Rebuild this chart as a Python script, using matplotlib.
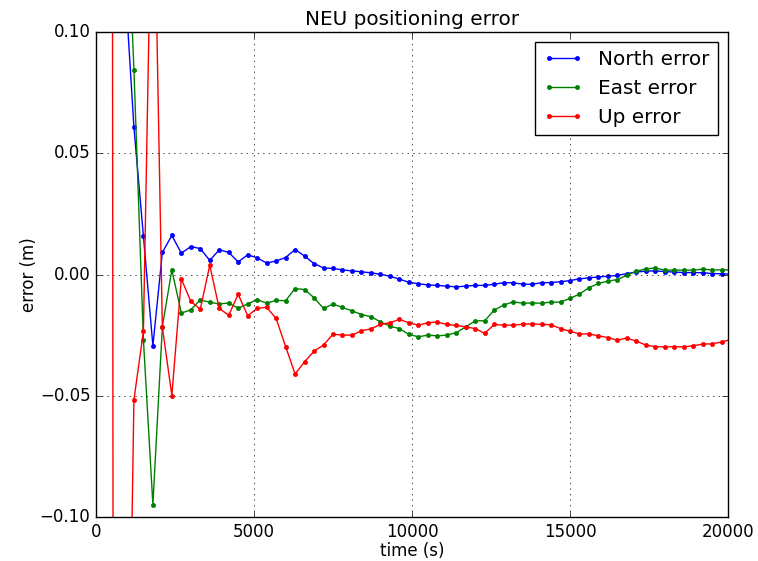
import numpy as np
import matplotlib
matplotlib.use("Agg")
import matplotlib.pyplot as plt

plt.style.use("classic")

# sample times (s), every 300 s
time_s = np.arange(300, 20101, 300)

north_err = [0.6, 0.3, 0.124,
             0.0607, 0.0159, -0.0294, 0.0091, 0.0161, 0.0088, 0.0115, 0.0107, 0.0058,
             0.0102, 0.0091, 0.0052, 0.0081, 0.0069, 0.0047, 0.0056, 0.0070,
             0.0103, 0.0076, 0.0045, 0.0027, 0.0025, 0.0019, 0.0015, 0.0011, 0.0007,
             0.0001, -0.0007, -0.0019, -0.0032, -0.0038, -0.0043, -0.0045, -0.0048,
             -0.0051, -0.0048, -0.0045, -0.0045, -0.0040, -0.0034,
             -0.0034, -0.0040, -0.0040, -0.0034, -0.0033, -0.0030, -0.0025, -0.0018,
             -0.0014, -0.0010, -0.0007, -0.0004, 0.0004, 0.0010, 0.0014, 0.0015,
             0.0012, 0.0010, 0.0008, 0.0008, 0.0007, 0.0004, 0.0003, 0.0001]

east_err = [0.7, 0.4, 0.18,
            0.0844, -0.0269, -0.0949, -0.0215, 0.0019, -0.0159, -0.0146, -0.0104, -0.0115,
            -0.0121, -0.0118, -0.0139, -0.0121, -0.0104, -0.0118, -0.0107, -0.0108,
            -0.0058, -0.0062, -0.0096, -0.0140, -0.0122, -0.0136, -0.0150, -0.0165,
            -0.0174, -0.0195, -0.0213, -0.0223, -0.0247, -0.0257, -0.0250, -0.0253,
            -0.0250, -0.0240, -0.0216, -0.0191, -0.0191, -0.0147, -0.0126,
            -0.0113, -0.0118, -0.0118, -0.0118, -0.0114, -0.0114, -0.0098, -0.0081,
            -0.0054, -0.0037, -0.0027, -0.0021, -0.0003, 0.0014, 0.0023, 0.0027,
            0.0018, 0.0018, 0.0018, 0.0018, 0.0022, 0.0019, 0.0019, 0.0019]

up_err = [3.0, -0.9, -0.3,
          -0.0517, -0.0235, 0.19, -0.0217, -0.0499, -0.0018, -0.0111, -0.0143, 0.0038,
          -0.0140, -0.0168, -0.0082, -0.0170, -0.0140, -0.0135, -0.0181, -0.0297,
          -0.0410, -0.0360, -0.0316, -0.0291, -0.0246, -0.0250, -0.0250, -0.0232,
          -0.0224, -0.0206, -0.0199, -0.0185, -0.0199, -0.0209, -0.0199, -0.0196,
          -0.0206, -0.0210, -0.0216, -0.0223, -0.0243, -0.0206, -0.0209,
          -0.0209, -0.0205, -0.0203, -0.0206, -0.0207, -0.0223, -0.0234, -0.0245,
          -0.0245, -0.0253, -0.0260, -0.0271, -0.0262, -0.0275, -0.0291, -0.0298,
          -0.0298, -0.0298, -0.0298, -0.0294, -0.0287, -0.0286, -0.0278, -0.0268]

fig = plt.figure(figsize=(7.58, 5.61), dpi=100, facecolor="white")
ax = fig.add_axes([96 / 758, 44 / 561, 632 / 758, 485 / 561])

ax.plot(time_s, north_err, color="b", marker=".", markersize=6, linewidth=1, label="North error")
ax.plot(time_s, east_err, color="g", marker=".", markersize=6, linewidth=1, label="East error")
ax.plot(time_s, up_err, color="r", marker=".", markersize=6, linewidth=1, label="Up error")

ax.set_xlim(0, 20000)
ax.set_ylim(-0.10, 0.10)
ax.set_xticks([0, 5000, 10000, 15000, 20000])
ax.set_yticks([-0.10, -0.05, 0.00, 0.05, 0.10])
ax.set_yticklabels(["\u22120.10", "\u22120.05", "0.00", "0.05", "0.10"])
ax.grid(True, color="k", linestyle=":", linewidth=0.5)
ax.set_title("NEU positioning error", fontsize=14.4)
ax.set_xlabel("time (s)", fontsize=12, labelpad=1)
ax.set_ylabel("error (m)", fontsize=12, labelpad=1)
ax.legend(loc="upper right", numpoints=2, fontsize=14.4)

fig.savefig("out.png", dpi=100, facecolor="white")
